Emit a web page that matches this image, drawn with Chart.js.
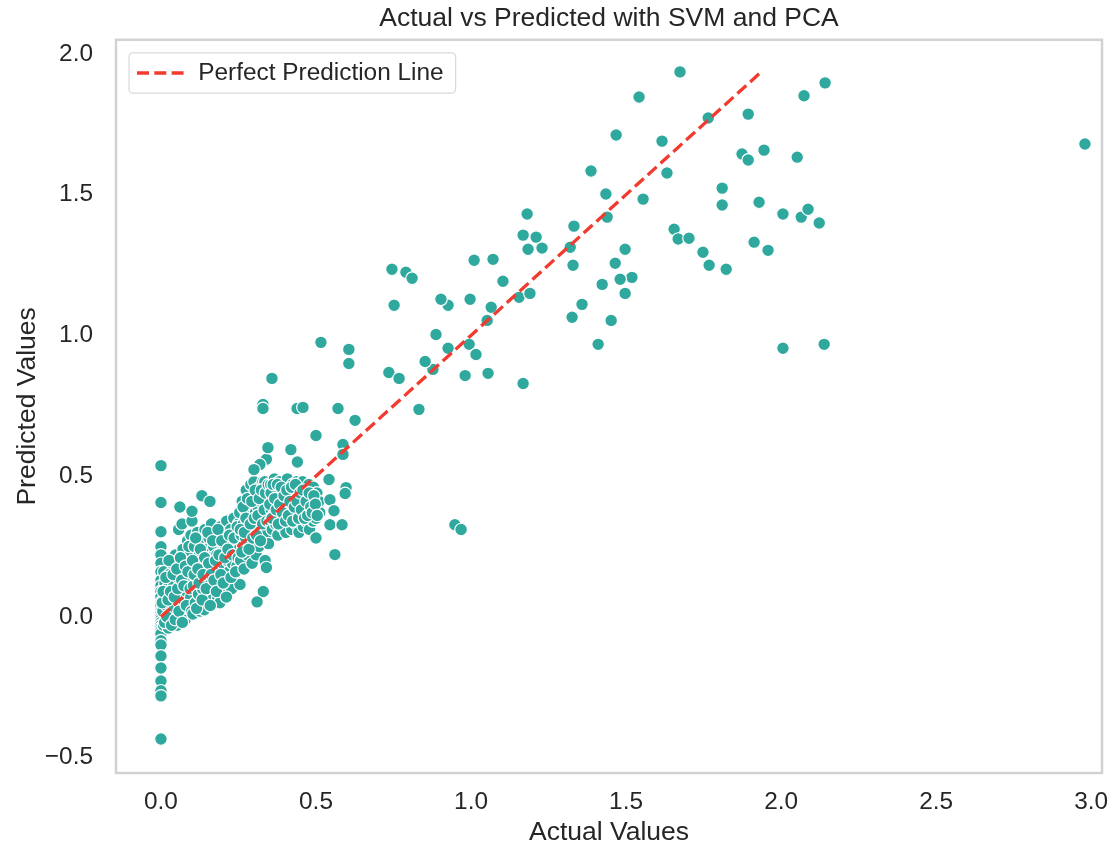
<!DOCTYPE html>
<html>
<head>
<meta charset="utf-8">
<title>Actual vs Predicted with SVM and PCA</title>
<script src="https://cdn.jsdelivr.net/npm/chart.js@4.4.1/dist/chart.umd.min.js"></script>
<style>
  html, body { margin: 0; padding: 0; background: #ffffff; }
  #wrap { width: 1112px; height: 847px; position: relative; }
</style>
</head>
<body>
<div id="wrap"><canvas id="chart"></canvas></div>
<script>
// Predictions for samples whose actual value is exactly 0
const zeroActualPredicted = [
  0.537, 0.406, 0.302, 0.249, 0.22, 0.19, 0.16, 0.13, 0.11, 0.09, 0.07, 0.05, 0.04,
  0.02, 0.01, 0.0, -0.01, -0.02, -0.03, -0.04, -0.05, -0.06, -0.085, -0.1, -0.139,
  -0.182, -0.228, -0.263, -0.281, -0.434
];

// Dense low-value cluster, [actual, predicted]
const clusterPairs = [
  // actual 0 - 0.1
  [0.006, 0.02], [0.008, -0.03], [0.011, 0.07], [0.013, 0.12], [0.009, 0.16], [0.015, -0.01],
  [0.018, 0.04], [0.021, 0.1], [0.024, -0.04], [0.027, 0.15], [0.029, 0.01], [0.033, 0.06],
  [0.036, 0.19], [0.038, -0.02], [0.041, 0.11], [0.044, 0.03], [0.047, 0.22], [0.049, 0.08],
  [0.052, -0.03], [0.055, 0.14], [0.057, 0.31], [0.059, 0.05], [0.062, 0.18], [0.064, 0.0],
  [0.066, 0.1], [0.068, 0.33], [0.061, 0.39], [0.071, 0.24], [0.073, 0.06], [0.076, 0.15],
  [0.078, -0.01], [0.081, 0.2], [0.083, 0.09], [0.086, 0.27], [0.088, 0.03], [0.091, 0.13],
  [0.093, 0.22], [0.096, 0.07], [0.098, 0.17], [0.1, 0.34], [0.1, 0.375], [0.097, 0.29],
  [0.004, 0.05], [0.007, 0.09], [0.012, -0.02], [0.016, 0.14], [0.019, 0.0], [0.023, 0.06],
  [0.026, 0.2], [0.031, 0.09], [0.034, -0.03], [0.039, 0.15], [0.043, 0.07], [0.046, -0.01],
  [0.051, 0.17], [0.054, 0.1], [0.058, 0.02], [0.063, 0.21], [0.067, 0.13], [0.069, -0.02],
  [0.074, 0.11], [0.079, 0.18], [0.082, 0.04], [0.087, 0.16], [0.09, 0.25], [0.094, 0.1],
  [0.099, 0.02],
  // actual 0.1 - 0.25
  [0.103, 0.01], [0.105, 0.11], [0.108, 0.25], [0.111, 0.05], [0.113, 0.19], [0.116, 0.14],
  [0.118, 0.3], [0.121, 0.08], [0.124, 0.22], [0.126, 0.02], [0.129, 0.16], [0.132, 0.43],
  [0.131, 0.27], [0.134, 0.1], [0.137, 0.2], [0.139, 0.05], [0.142, 0.31], [0.144, 0.13],
  [0.147, 0.24], [0.14, 0.025], [0.149, 0.17], [0.152, 0.08], [0.155, 0.28], [0.158, 0.41],
  [0.157, 0.12], [0.16, 0.21], [0.163, 0.33], [0.165, 0.06], [0.168, 0.18], [0.17, 0.25],
  [0.173, 0.1], [0.175, 0.3], [0.178, 0.14], [0.18, 0.22], [0.183, 0.07], [0.185, 0.27],
  [0.188, 0.17], [0.19, 0.05], [0.192, 0.32], [0.194, 0.12], [0.197, 0.23], [0.199, 0.19],
  [0.202, 0.29], [0.204, 0.09], [0.207, 0.15], [0.209, 0.25], [0.212, 0.34], [0.214, 0.2],
  [0.215, 0.12], [0.218, 0.28], [0.22, 0.16], [0.223, 0.23], [0.225, 0.31], [0.228, 0.1],
  [0.23, 0.19], [0.233, 0.26], [0.235, 0.35], [0.237, 0.14], [0.24, 0.22], [0.242, 0.3],
  [0.245, 0.18], [0.247, 0.27], [0.25, 0.33], [0.255, 0.115], [0.252, 0.24],
  [0.102, 0.2], [0.107, 0.15], [0.112, 0.28], [0.115, 0.03], [0.119, 0.17], [0.123, 0.12],
  [0.127, 0.24], [0.133, 0.06], [0.136, 0.15], [0.141, 0.21], [0.146, 0.1], [0.151, 0.3],
  [0.154, 0.19], [0.159, 0.04], [0.162, 0.15], [0.167, 0.27], [0.171, 0.13], [0.176, 0.2],
  [0.179, 0.09], [0.184, 0.31], [0.187, 0.22], [0.193, 0.15], [0.196, 0.27], [0.201, 0.12],
  [0.206, 0.21], [0.211, 0.07], [0.216, 0.24], [0.221, 0.29], [0.226, 0.14], [0.231, 0.22],
  [0.236, 0.28], [0.241, 0.16], [0.246, 0.32], [0.249, 0.21],
  // actual 0.25 - 0.35
  [0.254, 0.37], [0.257, 0.2], [0.259, 0.29], [0.262, 0.41], [0.264, 0.25], [0.266, 0.33],
  [0.268, 0.17], [0.271, 0.38], [0.273, 0.28], [0.275, 0.45], [0.278, 0.22], [0.28, 0.34],
  [0.283, 0.3], [0.285, 0.4], [0.287, 0.26], [0.29, 0.47], [0.292, 0.36], [0.294, 0.19],
  [0.297, 0.32], [0.3, 0.48], [0.299, 0.42], [0.302, 0.27], [0.305, 0.37], [0.307, 0.22],
  [0.31, 0.053], [0.309, 0.44], [0.312, 0.31], [0.314, 0.39], [0.316, 0.25], [0.318, 0.46],
  [0.32, 0.34], [0.32, 0.54], [0.322, 0.41], [0.325, 0.29], [0.327, 0.37], [0.33, 0.09],
  [0.329, 0.48], [0.332, 0.32], [0.334, 0.43], [0.336, 0.2], [0.335, 0.48], [0.338, 0.36],
  [0.34, 0.56], [0.34, 0.175], [0.341, 0.45], [0.343, 0.3], [0.345, 0.39], [0.347, 0.26],
  [0.349, 0.42],
  [0.256, 0.31], [0.261, 0.23], [0.265, 0.39], [0.269, 0.3], [0.274, 0.35], [0.279, 0.42],
  [0.284, 0.24], [0.288, 0.33], [0.293, 0.41], [0.296, 0.28], [0.301, 0.35], [0.304, 0.45],
  [0.308, 0.29], [0.313, 0.36], [0.317, 0.42], [0.321, 0.27], [0.324, 0.45], [0.328, 0.33],
  [0.333, 0.38], [0.337, 0.44], [0.342, 0.34], [0.346, 0.47],
  // actual 0.35 - 0.51
  [0.352, 0.34], [0.354, 0.47], [0.356, 0.38], [0.359, 0.31], [0.361, 0.43], [0.363, 0.36],
  [0.366, 0.49], [0.368, 0.4], [0.37, 0.33], [0.373, 0.45], [0.375, 0.37], [0.377, 0.29],
  [0.38, 0.42], [0.382, 0.48], [0.384, 0.35], [0.387, 0.39], [0.389, 0.44], [0.391, 0.32],
  [0.394, 0.41], [0.396, 0.47], [0.398, 0.36], [0.401, 0.43], [0.403, 0.3], [0.405, 0.38],
  [0.408, 0.49], [0.41, 0.4], [0.412, 0.34], [0.415, 0.45], [0.417, 0.37], [0.419, 0.42],
  [0.422, 0.31], [0.424, 0.47], [0.426, 0.39], [0.429, 0.35], [0.431, 0.44], [0.433, 0.41],
  [0.436, 0.33], [0.438, 0.48], [0.44, 0.55], [0.44, 0.37], [0.443, 0.43], [0.445, 0.3],
  [0.447, 0.46], [0.45, 0.39], [0.452, 0.35], [0.455, 0.42], [0.457, 0.48], [0.459, 0.32],
  [0.462, 0.4], [0.464, 0.37], [0.467, 0.45], [0.469, 0.34], [0.472, 0.43], [0.474, 0.39],
  [0.477, 0.47], [0.479, 0.31], [0.482, 0.36], [0.484, 0.44], [0.487, 0.41], [0.49, 0.34],
  [0.492, 0.46], [0.495, 0.38], [0.497, 0.42], [0.5, 0.35], [0.503, 0.44], [0.506, 0.39],
  [0.509, 0.41], [0.512, 0.37], [0.5, 0.28],
  [0.351, 0.4], [0.355, 0.44], [0.358, 0.35], [0.362, 0.47], [0.367, 0.42], [0.372, 0.38],
  [0.376, 0.47], [0.379, 0.33], [0.383, 0.4], [0.388, 0.46], [0.392, 0.37], [0.397, 0.43],
  [0.402, 0.34], [0.406, 0.45], [0.411, 0.36], [0.416, 0.41], [0.421, 0.46], [0.425, 0.34],
  [0.43, 0.39], [0.434, 0.47], [0.439, 0.41], [0.444, 0.35], [0.449, 0.44], [0.453, 0.38],
  [0.458, 0.45], [0.463, 0.35], [0.468, 0.41], [0.473, 0.36], [0.478, 0.44], [0.483, 0.39],
  [0.488, 0.37], [0.493, 0.43], [0.498, 0.4], [0.504, 0.36]
];

// Scattered samples, [actual, predicted]
const sparsePairs = [
  [1.674, 1.936], [1.542, 1.847], [2.98, 1.68], [2.142, 1.897], [2.074, 1.851],
  [1.765, 1.772], [1.894, 1.786], [1.468, 1.712], [1.616, 1.69], [1.387, 1.584],
  [1.632, 1.577], [1.874, 1.644], [1.894, 1.623], [1.945, 1.658], [2.052, 1.633],
  [1.81, 1.523], [1.555, 1.484], [1.435, 1.502], [1.929, 1.473], [1.81, 1.463],
  [1.439, 1.42], [1.181, 1.431], [2.006, 1.431], [2.065, 1.42], [2.087, 1.448],
  [2.123, 1.399], [1.332, 1.388], [1.21, 1.349], [1.168, 1.356], [1.229, 1.31],
  [1.32, 1.313], [1.184, 1.306], [1.655, 1.377], [1.668, 1.342], [1.703, 1.345],
  [1.748, 1.295], [1.823, 1.235], [1.768, 1.249], [1.913, 1.331], [1.958, 1.302],
  [1.497, 1.306], [1.465, 1.256], [1.519, 1.206], [1.481, 1.199], [1.329, 1.249],
  [1.423, 1.181], [1.497, 1.149], [1.358, 1.11], [1.452, 1.053], [1.326, 1.064],
  [1.41, 0.968], [2.006, 0.954], [2.139, 0.968], [1.01, 1.267], [1.071, 1.27],
  [1.103, 1.192], [1.155, 1.135], [1.19, 1.149], [1.065, 1.1], [0.997, 1.128],
  [0.926, 1.107], [0.903, 1.128], [1.052, 1.053], [0.745, 1.235], [0.752, 1.107],
  [0.79, 1.224], [0.81, 1.203], [0.887, 1.003], [0.994, 0.968], [1.016, 0.932],
  [0.877, 0.879], [0.852, 0.907], [1.055, 0.865], [0.981, 0.857], [1.168, 0.829],
  [0.926, 0.954], [0.735, 0.868], [0.768, 0.847], [0.832, 0.737], [0.516, 0.975],
  [0.606, 0.95], [0.606, 0.9], [0.358, 0.847], [0.329, 0.754], [0.329, 0.74],
  [0.439, 0.74], [0.458, 0.744], [0.571, 0.74], [0.626, 0.698], [0.5, 0.644],
  [0.419, 0.594], [0.587, 0.612], [0.587, 0.577], [0.948, 0.327], [0.968, 0.31],
  [0.561, 0.221], [0.597, 0.459], [0.594, 0.438], [0.542, 0.488], [0.545, 0.416],
  [0.545, 0.327], [0.584, 0.327], [0.558, 0.377], [0.345, 0.601], [0.319, 0.541],
  [0.3, 0.523]
];

// y = x reference line endpoints
const lineEnds = [0, 1.93];

const xTicks = [0.0, 0.5, 1.0, 1.5, 2.0, 2.5, 3.0];
const yTicks = [-0.5, 0.0, 0.5, 1.0, 1.5, 2.0];
const xRange = [-0.145, 3.035];
const yRange = [-0.555, 2.05];

const TEXT = '#262626';
const POINT = '#2fa89e';
const RED = '#f23b2e';

Chart.defaults.font.family = "'Liberation Sans', Arial, sans-serif";
Chart.defaults.color = TEXT;

const scatterPoints = [
  ...zeroActualPredicted.map(y => ({ x: 0, y })),
  ...clusterPairs.map(([x, y]) => ({ x, y })),
  ...sparsePairs.map(([x, y]) => ({ x, y }))
];

const fmt = v => (v < 0 ? '\u2212' + Math.abs(v).toFixed(1) : v.toFixed(1));

// Put title over the plot area and the legend inside its top-left corner
const placeBlocks = {
  id: 'placeBlocks',
  afterLayout(chart) {
    const a = chart.chartArea;
    const t = chart.titleBlock;
    if (t) { t.left = a.left; t.right = a.right; t.width = a.right - a.left; }
    const lg = chart.legend;
    if (lg) { lg.left = a.left; lg.top = a.top; lg.right = a.right; lg.bottom = a.bottom; }
  },
  afterDraw(chart) {
    const { ctx, chartArea: a } = chart;
    ctx.save();
    // axes frame
    ctx.strokeStyle = '#d2d2d2';
    ctx.lineWidth = 2.5;
    ctx.strokeRect(a.left, a.top, a.right - a.left, a.bottom - a.top);
    // legend frame
    const lg = chart.legend;
    const hb = lg && lg.legendHitBoxes && lg.legendHitBoxes[0];
    if (hb) {
      const pad = lg.options.labels.padding;
      ctx.beginPath();
      ctx.roundRect(lg.left + pad - 8, lg.top + pad - 8, hb.width + 20, hb.height + 16, 4);
      ctx.strokeStyle = '#dadada';
      ctx.lineWidth = 1.3;
      ctx.stroke();
    }
    ctx.restore();
  }
};

new Chart(document.getElementById('chart'), {
  type: 'scatter',
  data: {
    datasets: [
      {
        type: 'line',
        label: 'Perfect Prediction Line',
        data: lineEnds.map(v => ({ x: v, y: v })),
        borderColor: RED,
        borderWidth: 3.3,
        borderDash: [12, 5.3],
        pointRadius: 0,
        fill: false
      },
      {
        label: 'Samples',
        data: scatterPoints,
        backgroundColor: POINT,
        borderColor: '#ffffff',
        borderWidth: 1.2,
        pointRadius: 6.3
      }
    ]
  },
  options: {
    responsive: true,
    maintainAspectRatio: false,
    animation: false,
    layout: { padding: { left: 0, right: 10, top: 0, bottom: 0 } },
    plugins: {
      tooltip: { enabled: false },
      title: {
        display: true,
        text: 'Actual vs Predicted with SVM and PCA',
        color: TEXT,
        font: { size: 26.5, weight: 'normal' },
        padding: { top: 3, bottom: 5 }
      },
      legend: {
        display: true,
        position: 'chartArea',
        align: 'start',
        labels: {
          usePointStyle: true,
          pointStyleWidth: 49,
          padding: 21,
          color: TEXT,
          font: { size: 24.4 },
          generateLabels: chart => {
            const ds = chart.data.datasets[0];
            return [{
              text: ds.label,
              datasetIndex: 0,
              strokeStyle: ds.borderColor,
              fillStyle: ds.borderColor,
              lineWidth: ds.borderWidth,
              lineDash: ds.borderDash,
              pointStyle: 'line',
              fontColor: TEXT,
              hidden: false
            }];
          }
        }
      }
    },
    scales: {
      x: {
        type: 'linear',
        min: xRange[0],
        max: xRange[1],
        grid: { display: false, drawTicks: false },
        border: { display: false },
        afterBuildTicks: s => { s.ticks = xTicks.map(v => ({ value: v })); },
        afterFit: s => { s.height = 74; s.paddingLeft = 0; s.paddingRight = 0; },
        ticks: { padding: 15, color: TEXT, font: { size: 24.4 }, callback: v => fmt(v), maxRotation: 0, autoSkip: false },
        title: { display: true, text: 'Actual Values', color: TEXT, font: { size: 26.5, lineHeight: 1 }, padding: { top: 0, bottom: 1 } }
      },
      y: {
        type: 'linear',
        min: yRange[0],
        max: yRange[1],
        grid: { display: false, drawTicks: false },
        border: { display: false },
        afterBuildTicks: s => { s.ticks = yTicks.map(v => ({ value: v })); },
        afterFit: s => { s.width = 116; s.paddingTop = 0; s.paddingBottom = 0; },
        ticks: { padding: 23, color: TEXT, font: { size: 24.4 }, callback: v => fmt(v), autoSkip: false },
        title: { display: true, text: 'Predicted Values', color: TEXT, font: { size: 26.5 }, padding: { top: 12, bottom: 0 } }
      }
    }
  },
  plugins: [placeBlocks]
});
</script>
</body>
</html>
